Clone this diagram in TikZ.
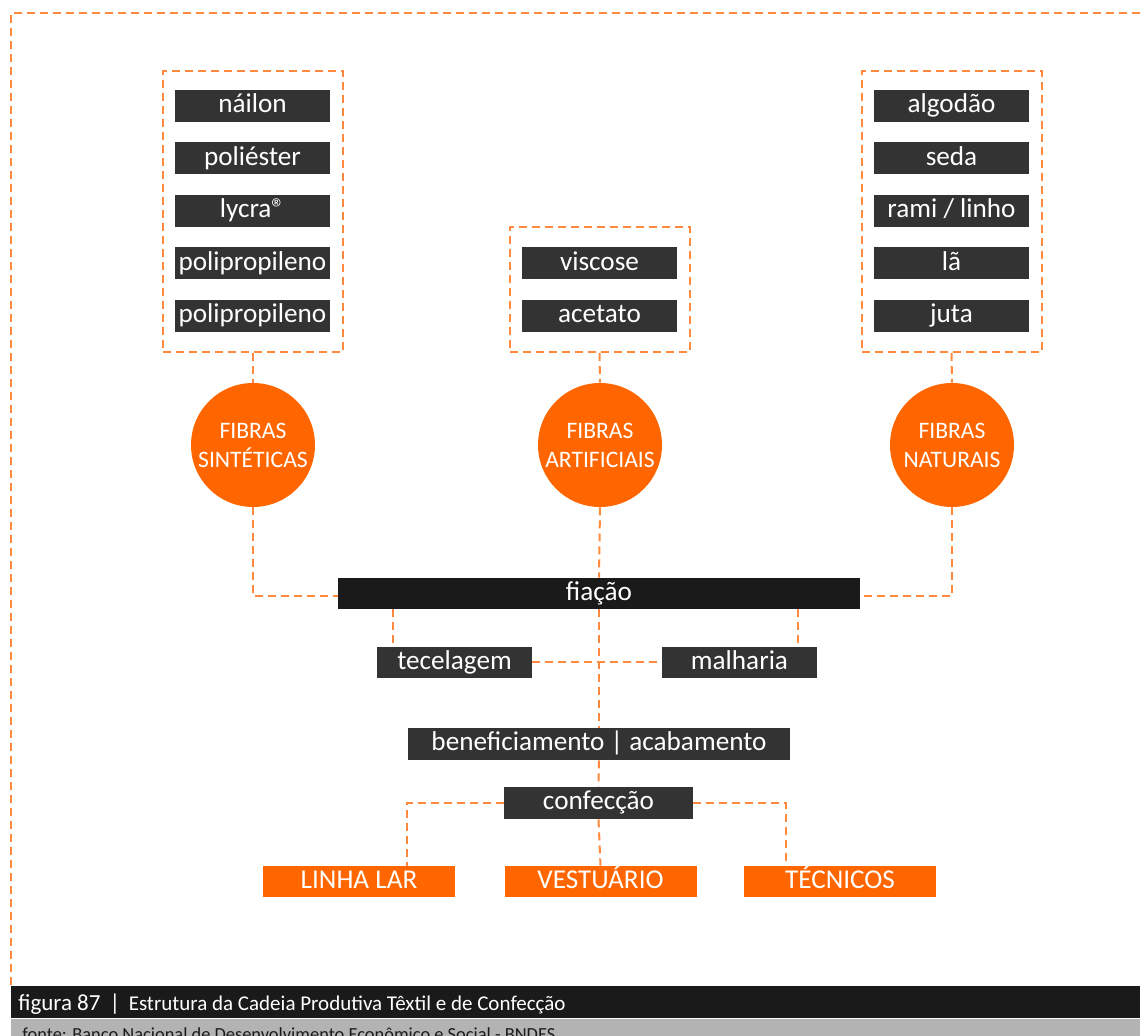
\documentclass[tikz,border=0pt]{standalone}
\usepackage{fontspec}
\setmainfont{Carlito}
\usetikzlibrary{positioning}
\definecolor{laranja}{HTML}{FF6600}
\definecolor{tracejado}{HTML}{FF8A3D}
\definecolor{cinzaescuro}{HTML}{333333}
\definecolor{quasepreto}{HTML}{1A1A1A}
\definecolor{cinzaclaro}{HTML}{B3B3B3}
\tikzset{
  ligacao/.style={draw=tracejado, line width=1pt, dash pattern=on 4pt off 2.5pt},
  grupo/.style={ligacao, rectangle, minimum width=90pt, inner sep=0pt},
  materia/.style={rectangle, fill=cinzaescuro, text=white, minimum width=77.5pt, minimum height=16pt, inner sep=0pt, text height=0.78em, text depth=0.12em, font=\fontsize{13.6}{15}\selectfont},
  fibra/.style={circle, fill=laranja, text=white, minimum size=62pt, inner sep=0pt, align=center, font=\fontsize{11.8}{14.5}\selectfont},
  produto/.style={materia, fill=laranja, minimum width=96pt, minimum height=15.5pt},
}

\begin{document}
\begin{tikzpicture}[x=0.5pt, y=-0.5pt]
        \useasboundingbox (0,0) rectangle (1140,1036);
        % moldura
        \draw[ligacao] (11,985) -- (11,13) -- (1150,13);
        % grupos de materias-primas
        \node[grupo, minimum height=140.5pt] (gS) at (253,211.5) {};
        \node[grupo, minimum height=62.5pt] (gA) at (599.5,289.5) {};
        \node[grupo, minimum height=140.5pt] (gN) at (951.5,211.5) {};
        \node[materia] (s1) at (252.5,106) {náilon};
        \node[materia] (s2) at (252.5,158.5) {poliéster};
        \node[materia] (s3) at (252.5,211) {lycra®};
        \node[materia] (s4) at (252.5,263.5) {polipropileno};
        \node[materia] (s5) at (252.5,316) {polipropileno};
        \node[materia] (a1) at (599.5,263.5) {viscose};
        \node[materia] (a2) at (599.5,316) {acetato};
        \node[materia] (n1) at (951.5,106) {algodão};
        \node[materia] (n2) at (951.5,158.5) {seda};
        \node[materia] (n3) at (951.5,211) {rami / linho};
        \node[materia] (n4) at (951.5,263.5) {lã};
        \node[materia] (n5) at (951.5,316) {juta};
        % fibras
        \node[fibra] (cS) at (253,445) {FIBRAS\\SINTÉTICAS};
        \node[fibra] (cA) at (600,445) {FIBRAS\\ARTIFICIAIS};
        \node[fibra] (cN) at (952,445) {FIBRAS\\NATURAIS};
        % etapas
        \node[materia, fill=quasepreto, minimum width=261pt, minimum height=15.5pt] (fia) at (599,593.5) {fiação};
        \node[materia, minimum height=15.5pt] (tec) at (454.5,662.5) {tecelagem};
        \node[materia, minimum height=15.5pt] (mal) at (739.5,662.5) {malharia};
        \node[materia, minimum width=191pt] (ben) at (599,744) {beneficiamento | acabamento};
        \node[materia, minimum width=94.5pt] (con) at (598.5,803) {confecção};
        % produtos
        \node[produto] (lar) at (359,881.5) {LINHA LAR};
        \node[produto] (ves) at (600.5,881.5) {VESTUÁRIO};
        \node[produto] (tcn) at (840,881.5) {TÉCNICOS};
        \coordinate (t1) at ([xshift=8pt]tec.north west);
        \coordinate (m1) at ([xshift=-9.5pt]mal.north east);
        \coordinate (p1) at ([xshift=24pt]lar.north);
        \coordinate (p3) at ([xshift=-27pt]tcn.north);
        % ligacoes
        \draw[ligacao] (gS.south) -- (cS.north);
        \draw[ligacao] (gA.south) -- (cA.north);
        \draw[ligacao] (gN.south) -- (cN.north);
        \draw[ligacao] (cS.south) |- ([yshift=-1.5pt]fia.west);
        \draw[ligacao] (cA.south) -- (fia.north);
        \draw[ligacao] (cN.south) |- ([yshift=-1.5pt]fia.east);
        \draw[ligacao] (t1 |- fia.south) -- (t1);
        \draw[ligacao] (m1 |- fia.south) -- (m1);
        \draw[ligacao] (tec.east) -- (mal.west);
        \draw[ligacao] (fia.south) -- (ben.north);
        \draw[ligacao] (ben.south) -- (con.north);
        \draw[ligacao] (con.west) -| (p1);
        \draw[ligacao] (con.south) -- (ves.north);
        \draw[ligacao] (con.east) -| (p3);
        % legenda
        \fill[quasepreto] (11,986) rectangle (1150,1018);
        \fill[cinzaclaro] (11,1019) rectangle (1150,1040);
        \node[anchor=base west, text=white, inner sep=0pt, font=\fontsize{10.5}{12}\selectfont] (leg) at (18,1010) {{\fontsize{11.5}{12}\selectfont figura 87 \,|\,} Estrutura da Cadeia Produtiva Têxtil e de Confecção};
        \node[anchor=base west, text=quasepreto, inner sep=0pt, font=\fontsize{9.2}{11}\selectfont] (fonte) at (22,1040) {fonte: Banco Nacional de Desenvolvimento Econômico e Social - BNDES};
    \end{tikzpicture}
\end{document}
